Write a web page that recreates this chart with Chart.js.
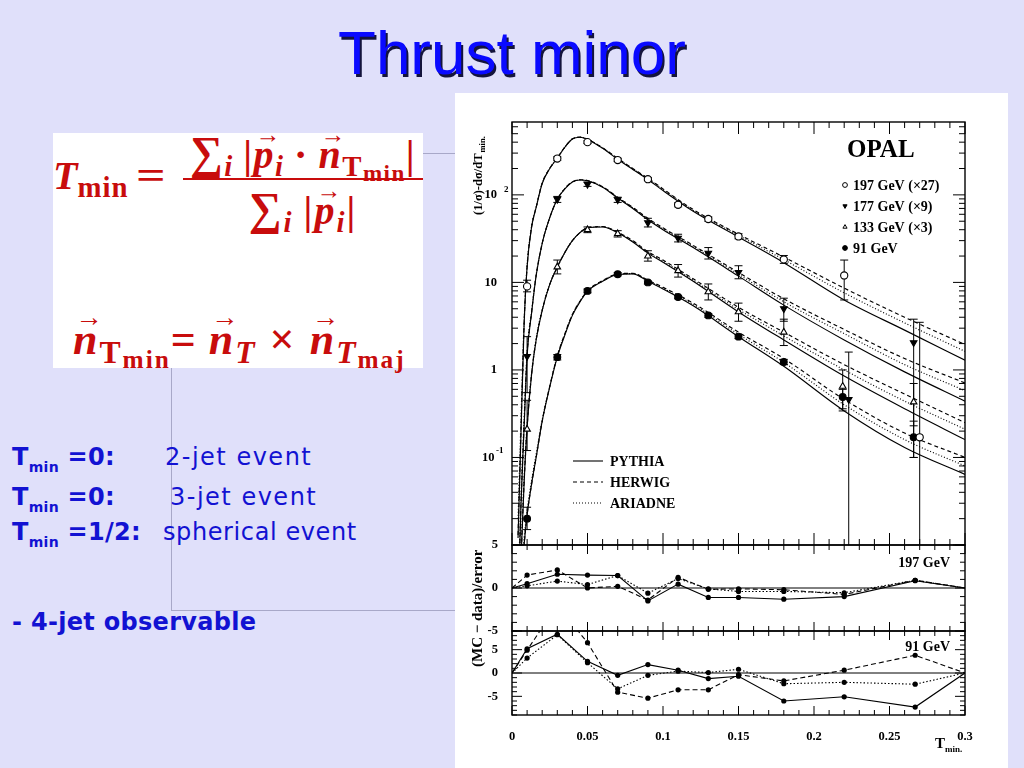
<!DOCTYPE html>
<html>
<head>
<meta charset="utf-8">
<script src="https://cdn.jsdelivr.net/npm/chart.js@4/dist/chart.umd.min.js"></script>
<style>
  html, body { margin: 0; padding: 0; }
  body { width: 1024px; height: 768px; background: #e0e0fa; position: relative; overflow: hidden; }
  .title { position: absolute; left: 0; width: 1024px; top: 22px; margin: 0; text-align: center;
    font: normal 62px/62px "Liberation Sans", Arial, sans-serif; color: #0a0aff;
    text-shadow: 2px 3px 0 #14143c; }
  .conn { position: absolute; background: #a8a8c8; }
  #fbox { position: absolute; left: 53px; top: 133px; width: 370px; height: 235px; background: #fff; }
  .f { position: absolute; font-family: "Liberation Serif", "DejaVu Serif", serif; font-weight: bold;
    color: #c80c0c; line-height: 1; white-space: nowrap; }
  .f sub { font-size: 0.72em; vertical-align: -0.28em; line-height: 0; }
  .f sub sub { font-size: 0.8em; vertical-align: -0.2em; }
  .f i { font-style: italic; }
  .vec { position: relative; display: inline-block; }
  .vec::after { content: "\2192"; position: absolute; left: 0.08em; top: -0.5em; font-size: 0.62em; font-style: normal; }
  .fbar { position: absolute; background: #c80c0c; }
  .txt { position: absolute; font-family: "DejaVu Sans", sans-serif; font-size: 24px; line-height: 24px;
    color: #1212d2; white-space: nowrap; letter-spacing: 1.5px; }
  .txt b { letter-spacing: 0.3px; }
  .txt b sub { font-size: 14px; vertical-align: -7px; line-height: 0; }
  #panel { position: absolute; left: 455px; top: 93px; width: 553px; height: 675px; background: #fff; }
</style>
</head>
<body>
<h1 class="title">Thrust minor</h1>

<div class="conn" style="left:423px;top:153px;width:32px;height:1px"></div>
<div class="conn" style="left:171px;top:368px;width:1px;height:243px"></div>
<div class="conn" style="left:171px;top:610px;width:284px;height:1px"></div>

<div id="fbox"></div>
<div class="f" style="left:53px;top:156px;font-size:40px"><i>T</i><sub style="letter-spacing:1px">min</sub></div>
<div class="f" style="left:136px;top:156px;font-size:40px;transform:scaleX(1.3);transform-origin:left">=</div>
<div class="f" style="left:181px;top:130px;width:244px;text-align:center;font-size:40px;letter-spacing:1.5px"><span style="font-size:1.15em">&sum;</span><sub><i>i</i></sub>&thinsp;|<span class="vec"><i>p</i></span><sub><i>i</i></sub>&thinsp;&middot;&thinsp;<span class="vec"><i>n</i></span><sub>T<sub>min</sub></sub>|</div>
<div class="fbar" style="left:183px;top:178px;width:240px;height:2px"></div>
<div class="f" style="left:183px;top:186px;width:240px;text-align:center;font-size:40px;letter-spacing:2px"><span style="font-size:1.15em">&sum;</span><sub><i>i</i></sub>&thinsp;|<span class="vec"><i>p</i></span><sub><i>i</i></sub>|</div>
<div class="f" style="left:73px;top:318px;font-size:44px;letter-spacing:2px"><span class="vec"><i>n</i></span><sub>T<sub>min</sub></sub>=&thinsp;<span class="vec"><i>n</i></span><sub><i>T</i></sub> &times; <span class="vec"><i>n</i></span><sub><i>T</i><sub>maj</sub></sub></div>

<div class="txt" style="left:12px;top:445px"><b>T<sub>min</sub> =0:</b></div>
<div class="txt" style="left:165px;top:445px">2-jet event</div>
<div class="txt" style="left:12px;top:485px"><b>T<sub>min</sub> =0:</b></div>
<div class="txt" style="left:170px;top:485px">3-jet event</div>
<div class="txt" style="left:12px;top:520px"><b>T<sub>min</sub> =1/2:</b></div>
<div class="txt" style="left:163px;top:520px;letter-spacing:0.6px">spherical event</div>
<div class="txt" style="left:12px;top:610px"><b>- 4-jet observable</b></div>

<div id="panel"><canvas id="chart"></canvas></div>

<script>
const SERIF = '"Liberation Serif", "DejaVu Serif", serif';

// measured points (bin centres in T_min)
const T_197 = [0.01, 0.03, 0.05, 0.07, 0.09, 0.11, 0.13, 0.15, 0.18, 0.22, 0.27];
const T_177 = [0.01, 0.03, 0.05, 0.07, 0.09, 0.11, 0.13, 0.15, 0.18, 0.223, 0.266];
const T_BINS = [0.01, 0.03, 0.05, 0.07, 0.09, 0.11, 0.13, 0.15, 0.18, 0.219, 0.266];

const D197 = [9.0, 260, 400, 250, 151, 77, 53, 33.5, 18.3, 12, 0.17];
const D197_LO = [7.8, 248, 385, 240, 145, 73, 50, 31.5, 16.5, 6.3, 0.005];
const D197_HI = [10.6, 272, 415, 262, 158, 81, 56, 36, 20.3, 18, 3.5];

const D177 = [1.43, 89, 132, 88, 48, 32, 21.6, 13, 5.0, 0.46, 2.05];
const D177_LO = [0.55, 82, 125, 82, 43, 29, 18.5, 11, 3.6, 0.005, 0.1];
const D177_HI = [2.4, 96, 140, 94, 54, 35.5, 25, 15.5, 6.6, 1.6, 3.8];

const D133 = [0.21, 15, 40, 36, 20, 13.6, 7.8, 4.6, 2.7, 0.65, 0.43];
const D133_LO = [0.12, 12.5, 37, 33, 17.5, 11.5, 6.3, 3.6, 1.9, 0.34, 0.23];
const D133_HI = [0.45, 18, 43, 39, 23, 16, 9.6, 5.8, 3.8, 1.0, 0.7];

const D91 = [0.02, 1.4, 8.0, 12.4, 10, 6.8, 4.2, 2.4, 1.23, 0.49, 0.17];
const D91_LO = [0.015, 1.3, 7.6, 11.9, 9.6, 6.5, 4.0, 2.28, 1.15, 0.36, 0.1];
const D91_HI = [0.027, 1.5, 8.4, 12.9, 10.4, 7.1, 4.4, 2.52, 1.32, 0.6, 0.26];

// Monte Carlo curves
const CURVE_T = [0.004, 0.006, 0.008, 0.01, 0.013, 0.016, 0.02, 0.025, 0.03, 0.035, 0.04, 0.045,
  0.05, 0.06, 0.07, 0.08, 0.09, 0.1, 0.12, 0.15, 0.18, 0.22, 0.26, 0.3];

const PY197 = [0.012, 0.2, 3.2, 15, 43, 72, 135, 200, 263, 350, 435, 455, 430, 340, 255, 195, 150, 112, 65, 33, 16.8, 6.3, 2.85, 1.29];
const HW197 = [0.013, 0.22, 3.3, 15, 43, 72, 136, 201, 265, 352, 437, 457, 433, 345, 262, 200, 155, 117, 68, 35.5, 19.5, 8.6, 4.0, 1.95];
const AR197 = [0.02, 0.3, 3.6, 16, 44, 73, 136, 201, 264, 351, 436, 456, 432, 343, 260, 198, 153, 115, 66.5, 34.5, 18.2, 7.6, 3.45, 1.63];

const PY177 = [0.002, 0.03, 0.22, 1.45, 4.5, 12, 28, 55, 89, 117, 140, 148, 145, 122, 92, 70, 52, 40, 25, 11.8, 5.5, 2.2, 0.95, 0.44];
const HW177 = [0.002, 0.03, 0.23, 1.5, 4.6, 12, 28, 55, 89, 118, 141, 149, 146, 124, 94, 72, 54, 42, 26.5, 13.0, 6.5, 2.9, 1.35, 0.71];
const AR177 = [0.003, 0.04, 0.27, 1.6, 4.7, 12.2, 28, 55, 89, 118, 140, 148, 145, 123, 93, 71, 53, 41, 25.8, 12.4, 6.0, 2.6, 1.15, 0.58];

const PY133 = [0.001, 0.007, 0.05, 0.22, 0.9, 2.2, 4.8, 9.5, 15, 22, 30, 37, 42, 43, 37, 29, 21.6, 17, 10.3, 4.6, 2.2, 0.85, 0.36, 0.16];
const HW133 = [0.001, 0.007, 0.05, 0.22, 0.9, 2.2, 4.8, 9.5, 15, 22, 30, 37, 42, 43.5, 37.5, 30, 22.5, 18, 11, 5.2, 2.7, 1.15, 0.53, 0.25];
const AR133 = [0.002, 0.01, 0.06, 0.24, 0.95, 2.3, 4.9, 9.6, 15, 22, 30, 37, 42, 43.2, 37, 29.5, 22, 17.5, 10.6, 4.9, 2.45, 1.0, 0.44, 0.21];

const PY91 = [0.0015, 0.004, 0.01, 0.022, 0.05, 0.1, 0.26, 0.64, 1.4, 2.5, 4.2, 6.0, 7.9, 10.3, 12.3, 12.5, 10.3, 8.4, 5.4, 2.4, 1.1, 0.34, 0.13, 0.064];
const HW91 = [0.0015, 0.004, 0.01, 0.022, 0.05, 0.1, 0.26, 0.65, 1.45, 2.6, 4.3, 6.1, 8.0, 10.5, 12.5, 12.7, 10.6, 8.8, 5.8, 2.7, 1.35, 0.46, 0.19, 0.10];
const AR91 = [0.002, 0.005, 0.012, 0.025, 0.055, 0.11, 0.27, 0.65, 1.45, 2.6, 4.3, 6.1, 8.0, 10.4, 12.4, 12.6, 10.5, 8.6, 5.6, 2.55, 1.22, 0.40, 0.16, 0.08];

// (MC - data)/error
const RES_T = [0, 0.01, 0.03, 0.05, 0.07, 0.09, 0.11, 0.13, 0.15, 0.18, 0.22, 0.267, 0.3];
const R197_PY = [0, 0.5, 1.6, 1.5, 1.45, -1.5, 0.45, -1.1, -1.1, -1.3, -1.0, 0.85, 0];
const R197_HW = [0, 1.5, 2.1, 0.0, 0.2, -1.4, 1.25, -0.15, -0.1, -0.2, -0.75, 0.9, 0];
const R197_AR = [0, 0.25, 0.8, 0.4, 1.45, -0.6, 1.1, -0.1, -0.4, -0.4, -0.55, 0.9, 0];
const R91_PY = [0, 5.2, 8.3, 2.5, -0.5, 1.8, 0.6, -1.2, -0.7, -6.0, -5.1, -7.3, 0];
const R91_HW = [0, 4.9, 14.5, 6.5, -4.1, -5.4, -3.6, -3.6, -0.35, -1.7, 0.6, 3.8, 0];
const R91_AR = [0, 3.2, 8.2, 2.2, -3.4, -0.5, 0.4, 0.1, 0.8, -2.3, -2.0, -2.4, 0];

const DASH = { PYTHIA: [], HERWIG: [4, 3], ARIADNE: [1, 2] };

function pts(xs, ys) {
  return xs.map((x, i) => ({ x, y: ys[i] }));
}

function curve(ys, gen) {
  return {
    data: pts(CURVE_T, ys), yAxisID: "y", borderColor: "#000", borderWidth: 1.15,
    borderDash: DASH[gen], pointRadius: 0, cubicInterpolationMode: "monotone", fill: false,
  };
}

function marks(xs, ys, style) {
  return Object.assign({
    data: pts(xs, ys), yAxisID: "y", showLine: false, pointBorderColor: "#000",
    pointBorderWidth: 1.1, pointRadius: 3.6,
  }, style);
}

function resid(ys, axis, gen) {
  return {
    data: pts(RES_T, ys), yAxisID: axis, borderColor: "#000", borderWidth: 1.1,
    borderDash: gen === "HERWIG" ? [5, 3] : gen === "ARIADNE" ? [1.5, 2] : [],
    pointBackgroundColor: "#000", pointBorderColor: "#000", pointBorderWidth: 0,
    pointRadius: (c) => (c.dataIndex === 0 || c.dataIndex === RES_T.length - 1 ? 0 : 2.6),
    tension: 0,
  };
}

const ERRORS = [
  [T_197, D197_LO, D197_HI], [T_177, D177_LO, D177_HI],
  [T_BINS, D133_LO, D133_HI], [T_BINS, D91_LO, D91_HI],
];

function seg(ctx, x1, y1, x2, y2) {
  ctx.beginPath();
  ctx.moveTo(x1, y1);
  ctx.lineTo(x2, y2);
  ctx.stroke();
}

const bold = (px) => `bold ${px}px ${SERIF}`;

const rootStyle = {
  id: "rootStyle",
  beforeDatasetsDraw(chart) {
    const { ctx, chartArea: a, scales } = chart;
    const s = scales.y;
    ctx.save();
    ctx.beginPath();
    ctx.rect(a.left, s.top, a.right - a.left, s.bottom - s.top);
    ctx.clip();
    ctx.strokeStyle = "#000";
    ctx.lineWidth = 1;
    ERRORS.forEach(([xs, lo, hi]) => {
      xs.forEach((x, i) => {
        const px = scales.x.getPixelForValue(x);
        const y1 = s.getPixelForValue(lo[i]);
        const y2 = s.getPixelForValue(hi[i]);
        seg(ctx, px, y1, px, y2);
        seg(ctx, px - 4, y1, px + 4, y1);
        seg(ctx, px - 4, y2, px + 4, y2);
      });
    });
    ctx.restore();
  },
  beforeDatasetDraw(chart, args) {
    const s = chart.scales[args.meta.yAxisID];
    const a = chart.chartArea;
    chart.ctx.save();
    chart.ctx.beginPath();
    chart.ctx.rect(a.left, s.top, a.right - a.left, s.bottom - s.top);
    chart.ctx.clip();
  },
  afterDatasetDraw(chart) {
    chart.ctx.restore();
  },
  afterDatasetsDraw(chart) {
    const { ctx, chartArea: a, scales } = chart;
    const xs = scales.x;
    ctx.save();
    ctx.strokeStyle = "#000";
    ["y", "r197", "r91"].forEach((id) => {
      const s = scales[id];
      const big = id === "y";
      ctx.lineWidth = 1;
      for (let k = 0; k <= 30; k++) {
        const px = xs.getPixelForValue(k / 100);
        const len = k % 5 === 0 ? (big ? 12 : 9) : (big ? 6 : 5);
        seg(ctx, px, s.top, px, s.top + len);
        seg(ctx, px, s.bottom, px, s.bottom - len);
      }
      if (big) {
        for (let d = -2; d <= 2; d++) {
          for (let m = 1; m <= 9; m++) {
            const v = m * Math.pow(10, d);
            if (v < s.min || v > s.max) continue;
            const py = s.getPixelForValue(v);
            const len = m === 1 ? 12 : 6;
            seg(ctx, a.left, py, a.left + len, py);
            seg(ctx, a.right, py, a.right - len, py);
          }
        }
      } else {
        for (let v = Math.ceil(s.min); v <= s.max; v++) {
          const py = s.getPixelForValue(v);
          const len = v % 5 === 0 ? 10 : 5;
          seg(ctx, a.left, py, a.left + len, py);
          seg(ctx, a.right, py, a.right - len, py);
        }
        const z = s.getPixelForValue(0);
        seg(ctx, a.left, z, a.right, z);
      }
      ctx.lineWidth = 1.4;
      ctx.strokeRect(a.left, s.top, a.right - a.left, s.bottom - s.top);
    });
    ctx.restore();
  },
  afterDraw(chart) {
    const { ctx, chartArea: a, scales } = chart;
    ctx.save();
    ctx.fillStyle = "#000";
    ctx.strokeStyle = "#000";
    ctx.textBaseline = "alphabetic";

    // exponents of the decade labels
    ctx.font = bold(9);
    ctx.fillText("2", a.left - 8, scales.y.getPixelForValue(100) - 3);
    ctx.fillText("-1", a.left - 16, scales.y.getPixelForValue(0.1) - 4);

    // rotated axis titles
    ctx.save();
    ctx.translate(27, 122);
    ctx.rotate(-Math.PI / 2);
    ctx.font = bold(12.5);
    ctx.fillText("(1/\u03c3)-d\u03c3/dT", 0, 0);
    const w = ctx.measureText("(1/\u03c3)-d\u03c3/dT").width;
    ctx.font = bold(8.5);
    ctx.fillText("min.", w + 1, 3);
    ctx.restore();

    ctx.save();
    ctx.translate(27, 574);
    ctx.rotate(-Math.PI / 2);
    ctx.font = bold(15);
    ctx.fillText("(MC \u2212 data)/error", 0, 0);
    ctx.restore();

    // x title
    ctx.font = bold(15);
    ctx.fillText("T", 480, 655);
    ctx.font = bold(9);
    ctx.fillText("min.", 490, 659);

    // OPAL + data legend
    ctx.font = bold(25);
    ctx.fillText("OPAL", 392, 64);
    const rows = [
      ["197 GeV (\u00d727)", "circle", 0, "#fff"],
      ["177 GeV (\u00d79)", "triangle", 180, "#000"],
      ["133 GeV (\u00d73)", "triangle", 0, "#fff"],
      ["91 GeV", "circle", 0, "#000"],
    ];
    ctx.font = bold(14);
    rows.forEach(([label, style, rot, fill], i) => {
      const y = 92 + i * 21;
      ctx.fillStyle = fill;
      ctx.lineWidth = 1;
      Chart.helpers.drawPoint(ctx, { pointStyle: style, radius: 2.4, rotation: rot, borderWidth: 1 }, 390, y);
      ctx.fillStyle = "#000";
      ctx.fillText(label, 398, y + 5);
    });

    // generator legend
    ["PYTHIA", "HERWIG", "ARIADNE"].forEach((g, i) => {
      const y = 368 + i * 21;
      ctx.lineWidth = 1.1;
      ctx.setLineDash(DASH[g]);
      seg(ctx, 118, y, 148, y);
      ctx.setLineDash([]);
      ctx.fillText(g, 155, y + 5);
    });

    // residual panel labels
    ctx.textAlign = "right";
    ctx.fillText("197 GeV", 495, 474);
    ctx.fillText("91 GeV", 495, 558);
    ctx.restore();
  },
};

const tickFont = { family: SERIF, size: 12.5, weight: "bold" };
const noLines = { grid: { display: false }, border: { display: false } };

function decadeLabel(v) {
  const e = Math.log10(v);
  if (Math.abs(e - Math.round(e)) > 1e-6) return "";
  return { "-1": "10\u2009", "0": "1", "1": "10", "2": "10" }[String(Math.round(e))] || "";
}

new Chart(document.getElementById("chart"), {
  type: "line",
  data: {
    datasets: [
      marks(T_197, D197, { pointStyle: "circle", pointBackgroundColor: "#fff" }),
      marks(T_177, D177, { pointStyle: "triangle", pointRotation: 180, pointBackgroundColor: "#000", pointRadius: 3.8 }),
      marks(T_BINS, D133, { pointStyle: "triangle", pointBackgroundColor: "#fff", pointRadius: 3.8 }),
      marks(T_BINS, D91, { pointStyle: "circle", pointBackgroundColor: "#000", pointRadius: 3.4 }),
      curve(PY197, "PYTHIA"), curve(HW197, "HERWIG"), curve(AR197, "ARIADNE"),
      curve(PY177, "PYTHIA"), curve(HW177, "HERWIG"), curve(AR177, "ARIADNE"),
      curve(PY133, "PYTHIA"), curve(HW133, "HERWIG"), curve(AR133, "ARIADNE"),
      curve(PY91, "PYTHIA"), curve(HW91, "HERWIG"), curve(AR91, "ARIADNE"),
      resid(R197_PY, "r197", "PYTHIA"), resid(R197_HW, "r197", "HERWIG"), resid(R197_AR, "r197", "ARIADNE"),
      resid(R91_PY, "r91", "PYTHIA"), resid(R91_HW, "r91", "HERWIG"), resid(R91_AR, "r91", "ARIADNE"),
    ],
  },
  options: {
    animation: false,
    responsive: true,
    maintainAspectRatio: false,
    layout: { padding: { left: 0, right: 43, top: 29, bottom: 0 } },
    plugins: { legend: { display: false }, tooltip: { enabled: false } },
    scales: {
      x: {
        type: "linear", min: 0, max: 0.3, position: "bottom", ...noLines,
        ticks: { stepSize: 0.05, padding: 6, color: "#000", font: tickFont, maxRotation: 0, autoSkip: false,
          callback: (v) => String(+v.toFixed(2)) },
        afterFit: (s) => { s.height = 53; },
      },
      // stacked panels: the last one defined ends up on top
      r91: {
        type: "linear", min: -9, max: 9, position: "left", stack: "p", stackWeight: 84, ...noLines,
        ticks: { padding: 6, color: "#000", font: tickFont, autoSkip: false },
        afterBuildTicks: (s) => { s.ticks = [-5, 0, 5].map((value) => ({ value })); },
        afterFit: (s) => { s.width = 57; },
      },
      r197: {
        type: "linear", min: -5, max: 5, position: "left", stack: "p", stackWeight: 86, ...noLines,
        ticks: { padding: 6, color: "#000", font: tickFont, autoSkip: false },
        afterBuildTicks: (s) => { s.ticks = [-5, 0, 5].map((value) => ({ value })); },
        afterFit: (s) => { s.width = 57; },
      },
      y: {
        type: "logarithmic", min: 0.01, max: 680, position: "left", stack: "p", stackWeight: 423, ...noLines,
        ticks: { padding: 7, color: "#000", font: tickFont, autoSkip: false, callback: decadeLabel },
        afterFit: (s) => { s.width = 57; },
      },
    },
  },
  plugins: [rootStyle],
});
</script>
</body>
</html>
